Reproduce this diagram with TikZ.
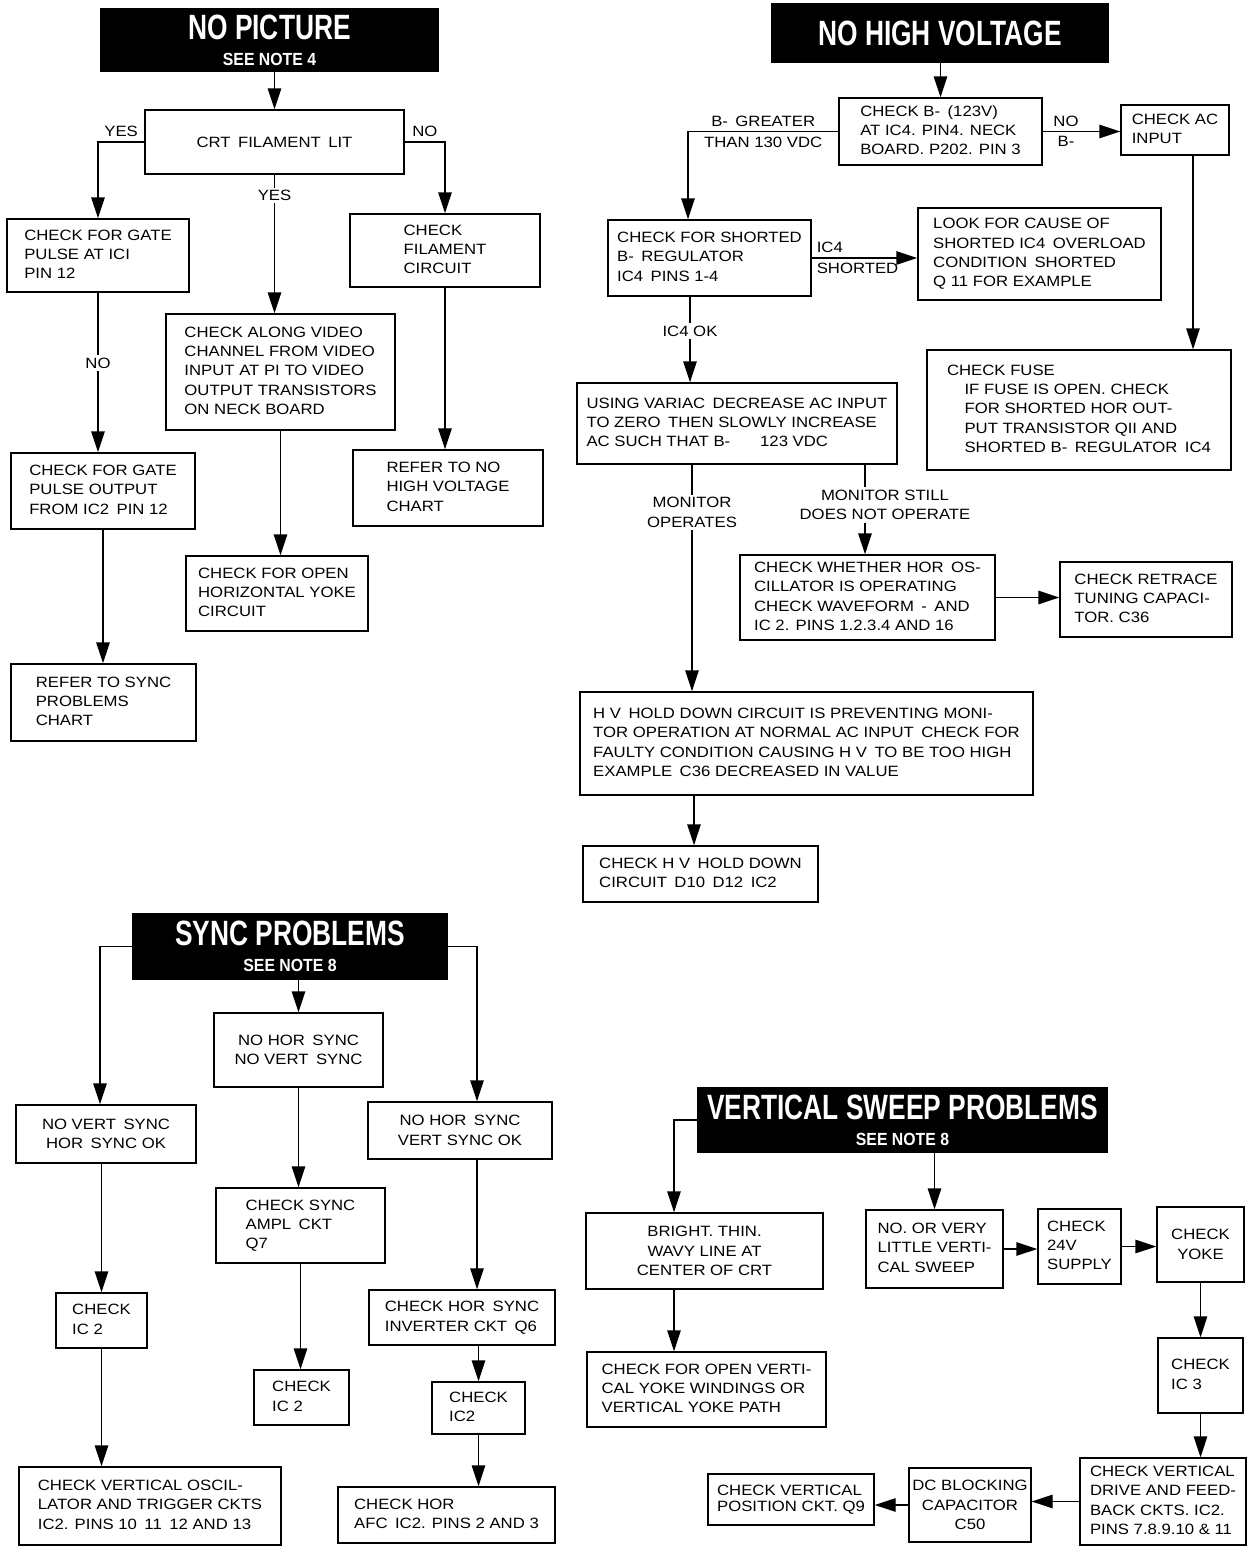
\documentclass[tikz,border=0pt]{standalone}
\usepackage{fontspec}
\setmainfont{Liberation Sans}[FakeStretch=1.12]
\newfontfamily\bannerfont{Liberation Sans}[FakeStretch=0.75]
\newfontfamily\notefont{Liberation Sans}[FakeStretch=0.9]
\usetikzlibrary{arrows.meta}

\newcommand{\chartfont}{\fontsize{8.5}{11}\selectfont}
\newcommand{\bigtitle}{\bannerfont\bfseries\fontsize{20}{20}\selectfont}
\newcommand{\notetitle}{\notefont\bfseries\fontsize{10}{11}\selectfont}
\newcommand{\lft}[1]{\begin{tabular}{@{}l@{}}#1\end{tabular}}

\tikzset{
    placed/.style n args={4}{at={({(#1+#3)/2},{(#2+#4)/2})},
        minimum width={(#3-#1)*0.02cm}, minimum height={(#4-#2)*0.02cm}},
    box/.style={draw, line width=0.8pt, inner sep=0pt, align=center, font=\chartfont},
    banner/.style={fill=black, text=white, inner sep=0pt, align=center},
    arr/.style={line width=0.8pt, -{Triangle[length=4.2mm, width=2.7mm]}},
    lbl/.style={font=\chartfont, inner sep=2.5pt, align=center},
    cut/.style={lbl, fill=white, inner sep=1.5pt},
}

\begin{document}
\begin{tikzpicture}[x=0.02cm, y=-0.02cm]
    \useasboundingbox (0,0) rectangle (1253,1547);

    % No picture chart
    \node[banner, placed={100}{8}{439}{72}] (np) {{\bigtitle NO PICTURE}\\[3pt]{\notetitle SEE NOTE 4}};
    \node[box, placed={145}{110}{404}{174}] (crt) {CRT\enspace FILAMENT\enspace LIT};
    \node[box, placed={7}{219}{189}{292}] (gate) {\lft{CHECK FOR GATE\\PULSE AT ICI\\PIN 12}};
    \node[box, placed={350}{214}{540}{287}] (fil) {\lft{CHECK\\FILAMENT\\CIRCUIT}};
    \node[box, placed={166}{314}{395}{430}] (video) {\lft{CHECK ALONG VIDEO\\CHANNEL FROM VIDEO\\INPUT AT PI TO VIDEO\\OUTPUT TRANSISTORS\\ON NECK BOARD}};
    \node[box, placed={11}{453}{195}{529}] (gateout) {\lft{CHECK FOR GATE\\PULSE OUTPUT\\FROM IC2\enspace PIN 12}};
    \node[box, placed={353}{450}{543}{526}] (refhv) {\lft{REFER TO NO\\HIGH VOLTAGE\\CHART}};
    \node[box, placed={186}{556}{368}{631}] (hyoke) {\lft{CHECK FOR OPEN\\HORIZONTAL YOKE\\CIRCUIT}};
    \node[box, placed={11}{664}{196}{741}] (refsync) {\lft{REFER TO SYNC\\PROBLEMS\\CHART}};

    \draw[arr] (np.south -| crt.north) -- (crt.north);
    \draw[arr] (crt.west) -| node[lbl, above, pos=0.25] {YES} (gate.north);
    \draw[arr] (crt.east) -| node[lbl, above, pos=0.25] {NO} (fil.north);
    \draw[arr] (crt.south) -- node[cut, pos=0.15] {YES} (crt.south |- video.north);
    \draw[arr] (gate.south) -- node[cut, pos=0.44] {NO} (gate.south |- gateout.north);
    \draw[arr] (gateout.south) -- (gateout.south |- refsync.north);
    \draw[arr] (video.south) -- (video.south |- hyoke.north);
    \draw[arr] (fil.south) -- (fil.south |- refhv.north);

    % No high voltage chart
    \node[banner, placed={771}{3}{1109}{63}] (nhv) {\bigtitle NO HIGH VOLTAGE};
    \node[box, placed={839}{98}{1042}{165}] (chkb) {\lft{CHECK B-\enspace(123V)\\AT IC4. PIN4. NECK\\BOARD. P202. PIN 3}};
    \node[box, placed={1121}{105}{1229}{155}] (acin) {\lft{CHECK AC\\INPUT}};
    \node[box, placed={608}{220}{811}{296}] (short) {\lft{CHECK FOR SHORTED\\B-\enspace REGULATOR\\IC4\enspace PINS 1-4}};
    \node[box, placed={918}{208}{1161}{300}] (look) {\lft{LOOK FOR CAUSE OF\\SHORTED IC4\enspace OVERLOAD\\CONDITION\enspace SHORTED\\Q 11 FOR EXAMPLE}};
    \node[box, placed={927}{350}{1231}{470}] (fuse) {\lft{CHECK FUSE\\\hspace*{3.5mm}IF FUSE IS OPEN. CHECK\\\hspace*{3.5mm}FOR SHORTED HOR OUT-\\\hspace*{3.5mm}PUT TRANSISTOR QII AND\\\hspace*{3.5mm}SHORTED B-\enspace REGULATOR\enspace IC4}};
    \node[box, placed={577}{383}{897}{464}] (variac) {\lft{USING VARIAC\enspace DECREASE AC INPUT\\TO ZERO\enspace THEN SLOWLY INCREASE\\AC SUCH THAT B-\qquad 123 VDC}};
    \node[box, placed={740}{555}{995}{640}] (osc) {\lft{CHECK WHETHER HOR\enspace OS-\\CILLATOR IS OPERATING\\CHECK WAVEFORM\enspace -\enspace AND\\IC 2. PINS 1.2.3.4 AND 16}};
    \node[box, placed={1060}{562}{1232}{637}] (retrace) {\lft{CHECK RETRACE\\TUNING CAPACI-\\TOR. C36}};
    \node[box, placed={580}{692}{1033}{795}] (hold) {\lft{H V\enspace HOLD DOWN CIRCUIT IS PREVENTING MONI-\\TOR OPERATION AT NORMAL AC INPUT\enspace CHECK FOR\\FAULTY CONDITION CAUSING H V\enspace TO BE TOO HIGH\\EXAMPLE\enspace C36 DECREASED IN VALUE}};
    \node[box, placed={583}{846}{818}{902}] (chkhv) {\lft{CHECK H V\enspace HOLD DOWN\\CIRCUIT\enspace D10\enspace D12\enspace IC2}};

    \draw[arr] (nhv.south -| chkb.north) -- (chkb.north);
    \draw[arr] (chkb.west) -| node[lbl, above, pos=0.25] {B-\enspace GREATER} node[lbl, below, pos=0.25] {THAN 130 VDC} (688,0 |- short.north);
    \draw[arr] (chkb.east) -- node[lbl, above, pos=0.3] {NO} node[lbl, below, pos=0.3] {B-} (chkb.east -| acin.west);
    \draw[arr] (1193,0 |- acin.south) -- (1193,0 |- fuse.north);
    \draw[arr] (short.east) -- node[lbl, above right, pos=0] {IC4} node[lbl, below right, pos=0] {SHORTED} (short.east -| look.west);
    \draw[arr] (690,0 |- short.south) -- node[cut, pos=0.4] {IC4 OK} (690,0 |- variac.north);
    \draw[arr] (692,0 |- variac.south) -- node[cut, pos=0.21] {MONITOR\\OPERATES} (692,0 |- hold.north);
    \draw[arr] (865,0 |- variac.south) -- node[cut, pos=0.45, xshift=4mm] {MONITOR STILL\\DOES NOT OPERATE} (865,0 |- osc.north);
    \draw[arr] (osc.east) -- (osc.east -| retrace.west);
    \draw[arr] (694,0 |- hold.south) -- (694,0 |- chkhv.north);

    % Sync problems chart
    \node[banner, placed={132}{913}{448}{980}] (sync) {{\bigtitle SYNC PROBLEMS}\\[3pt]{\notetitle SEE NOTE 8}};
    \node[box, placed={214}{1013}{383}{1087}] (nohv) {NO HOR\enspace SYNC\\NO VERT\enspace SYNC};
    \node[box, placed={16}{1105}{196}{1163}] (novert) {NO VERT\enspace SYNC\\HOR\enspace SYNC OK};
    \node[box, placed={368}{1102}{552}{1159}] (nohor) {NO HOR\enspace SYNC\\VERT SYNC OK};
    \node[box, placed={216}{1188}{385}{1263}] (ampl) {\lft{CHECK SYNC\\AMPL\enspace CKT\\Q7}};
    \node[box, placed={56}{1293}{147}{1348}] (icvert) {\lft{CHECK\\IC 2}};
    \node[box, placed={19}{1467}{281}{1545}] (vosc) {\lft{CHECK VERTICAL OSCIL-\\LATOR AND TRIGGER CKTS\\IC2. PINS 10\enspace 11\enspace 12 AND 13}};
    \node[box, placed={254}{1370}{349}{1425}] (icboth) {\lft{CHECK\\IC 2}};
    \node[box, placed={369}{1290}{555}{1345}] (inv) {\lft{CHECK HOR\enspace SYNC\\INVERTER CKT\enspace Q6}};
    \node[box, placed={432}{1382}{525}{1434}] (ichor) {\lft{CHECK\\IC2}};
    \node[box, placed={338}{1487}{555}{1543}] (afc) {\lft{CHECK HOR\\AFC\enspace IC2. PINS 2 AND 3}};

    \draw[arr] (sync.south -| nohv.north) -- (nohv.north);
    \draw[arr] (sync.west) -| (100,0 |- novert.north);
    \draw[arr] (sync.east) -| (477,0 |- nohor.north);
    \draw[arr] (novert.south -| icvert.north) -- (icvert.north);
    \draw[arr] (icvert.south) -- (icvert.south |- vosc.north);
    \draw[arr] (nohv.south) -- (nohv.south |- ampl.north);
    \draw[arr] (ampl.south) -- (ampl.south |- icboth.north);
    \draw[arr] (477,0 |- nohor.south) -- (477,0 |- inv.north);
    \draw[arr] (inv.south -| ichor.north) -- (ichor.north);
    \draw[arr] (ichor.south) -- (ichor.south |- afc.north);

    % Vertical sweep problems chart
    \node[banner, placed={697}{1087}{1108}{1153}] (vert) {{\bigtitle VERTICAL SWEEP PROBLEMS}\\[3pt]{\notetitle SEE NOTE 8}};
    \node[box, placed={586}{1213}{823}{1289}] (bright) {BRIGHT. THIN.\\WAVY LINE AT\\CENTER OF CRT};
    \node[box, placed={866}{1210}{1003}{1288}] (nosweep) {\lft{NO. OR VERY\\LITTLE VERTI-\\CAL SWEEP}};
    \node[box, placed={1038}{1209}{1121}{1284}] (sup) {\lft{CHECK\\24V\\SUPPLY}};
    \node[box, placed={1157}{1207}{1244}{1282}] (vyoke) {CHECK\\YOKE};
    \node[box, placed={587}{1352}{826}{1427}] (openv) {\lft{CHECK FOR OPEN VERTI-\\CAL YOKE WINDINGS OR\\VERTICAL YOKE PATH}};
    \node[box, placed={1158}{1338}{1243}{1413}] (icthree) {\lft{CHECK\\IC 3}};
    \node[box, placed={1080}{1458}{1246}{1545}] (drive) {\lft{CHECK VERTICAL\\DRIVE AND FEED-\\BACK CKTS. IC2.\\PINS 7.8.9.10 \& 11}};
    \node[box, placed={909}{1468}{1031}{1542}] (dcblk) {DC BLOCKING\\CAPACITOR\\C50};
    \node[box, placed={708}{1474}{874}{1525}] (vpos) {\lft{CHECK VERTICAL\\[-1.5pt]POSITION CKT. Q9}};

    \draw[arr] (vert.west) -| (674,0 |- bright.north);
    \draw[arr] (vert.south -| nosweep.north) -- (nosweep.north);
    \draw[arr] (674,0 |- bright.south) -- (674,0 |- openv.north);
    \draw[arr] (nosweep.east) -- (nosweep.east -| sup.west);
    \draw[arr] (sup.east) -- (sup.east -| vyoke.west);
    \draw[arr] (vyoke.south) -- (vyoke.south |- icthree.north);
    \draw[arr] (icthree.south) -- (icthree.south |- drive.north);
    \draw[arr] (drive.west) -- (drive.west -| dcblk.east);
    \draw[arr] (dcblk.west) -- (dcblk.west -| vpos.east);

\end{tikzpicture}
\end{document}
